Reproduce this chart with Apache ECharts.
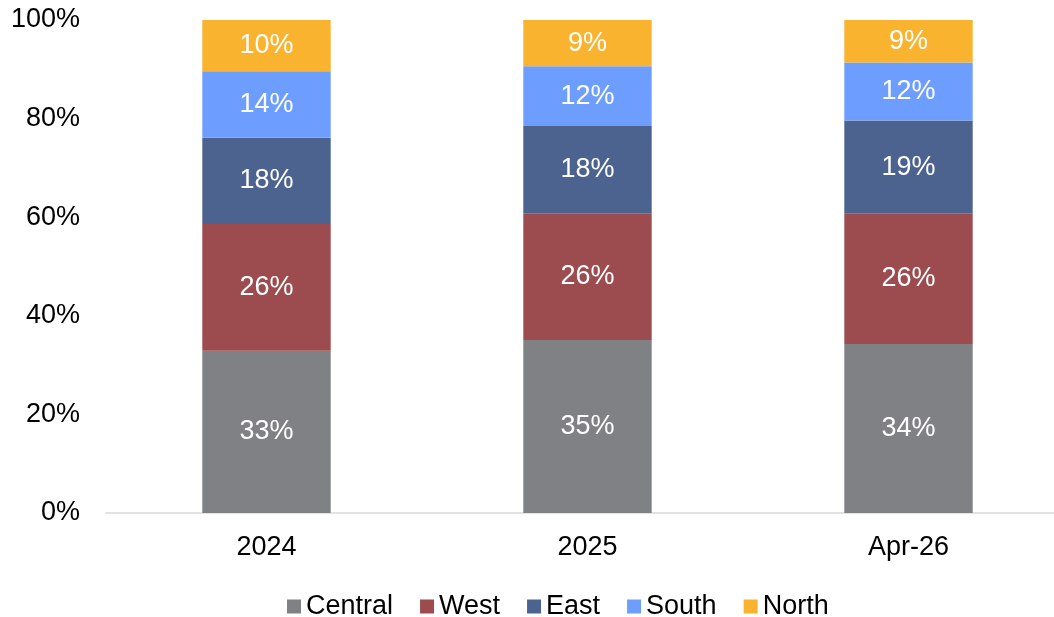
<!DOCTYPE html>
<html>
<head>
<meta charset="utf-8">
<script src="https://cdn.jsdelivr.net/npm/echarts@6/dist/echarts.min.js"></script>
<style>
  html, body { margin: 0; padding: 0; background: #fff; }
  #chart { width: 1054px; height: 617px; }
</style>
</head>
<body>
<div id="chart"></div>
<script>
// regional share by period (%)
const categories = ['2024', '2025', 'Apr-26'];
const central = [32.9, 35.1, 34.3];
const west = [25.7, 25.7, 26.4];
const east = [17.5, 17.7, 18.9];
const south = [13.5, 12.1, 11.8];
const north = [10.4, 9.4, 8.6];
const yTicks = [0, 20, 40, 60, 80, 100];

const FONT = '"Liberation Sans", Arial, sans-serif';

const colorMap = {
  'Central': '#808184',
  'West': '#9C4C4E',
  'East': '#4B638E',
  'South': '#6D9EFF',
  'North': '#F9B32F',
};

const seriesData = [
  ['Central', central],
  ['West', west],
  ['East', east],
  ['South', south],
  ['North', north],
];

const chart = echarts.init(document.getElementById('chart'));

chart.setOption({
  backgroundColor: '#fff',
  animation: false,
  // plot runs a little past the right edge in the original
  grid: { left: 106, top: 20, bottom: 104, width: 963, outerBoundsMode: 'none' },
  legend: {
    left: 282,
    top: 588,
    icon: 'rect',
    itemWidth: 14,
    itemHeight: 14,
    itemGap: 27,
    textStyle: { fontFamily: FONT, fontSize: 27, color: '#000' },
    data: seriesData.map(([name]) => name),
  },
  xAxis: {
    type: 'category',
    data: categories,
    axisLine: { lineStyle: { color: '#D9D9D9', width: 1.5 } },
    axisTick: { show: false },
    axisLabel: { fontFamily: FONT, fontSize: 27, color: '#000', margin: 21 },
  },
  yAxis: {
    type: 'value',
    min: yTicks[0],
    max: yTicks[yTicks.length - 1],
    interval: 20,
    splitLine: { show: false },
    axisLine: { show: false },
    axisTick: { show: false },
    axisLabel: {
      fontFamily: FONT, fontSize: 27, color: '#000', margin: 26,
      formatter: v => v + '%',
    },
  },
  series: seriesData.map(([name, values]) => ({
    name,
    type: 'bar',
    stack: 'total',
    barWidth: '40%',
    itemStyle: { color: colorMap[name] },
    label: {
      show: true,
      position: 'inside',
      color: '#fff',
      fontFamily: FONT,
      fontSize: 27,
      formatter: p => Math.round(p.value) + '%',
    },
    data: values,
  })),
});

window.addEventListener('resize', () => chart.resize());
</script>
</body>
</html>
